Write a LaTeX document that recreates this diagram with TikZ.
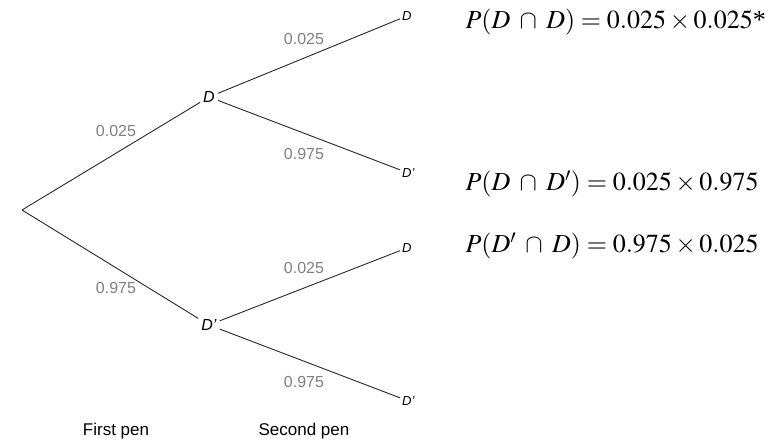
\documentclass[tikz,border=0pt]{standalone}
\usepackage{mathptmx}
\usepackage{fontspec}
\setmainfont{Liberation Serif}
\setsansfont{Liberation Sans}
\usetikzlibrary{positioning}

\tikzset{
  branch/.style={line width=0.9pt,black!85},
  prob/.style={text=black!50,font=\sffamily\fontsize{16}{18}\selectfont},
  outcome/.style={font=\sffamily\itshape\fontsize{16}{18}\selectfont,inner sep=3pt},
  leaf/.style={font=\sffamily\itshape\fontsize{13}{15}\selectfont,inner sep=2pt,anchor=west},
  result/.style={anchor=base west,font=\fontsize{26}{30}\selectfont},
  stage/.style={font=\sffamily\fontsize{17}{20}\selectfont}
}

\begin{document}
\begin{tikzpicture}[x=1pt,y=-1pt]
\useasboundingbox (0,0) rectangle (774,443);
% tree
\coordinate (root) at (22,210);
\node[outcome] (D) at (209,97) {D};
\node[outcome] (Dc) at (209,325) {D’};
\node[leaf] (DD) at (400,16) {D};
\node[leaf] (DDc) at (400,173) {D’};
\node[leaf] (DcD) at (400,248) {D};
\node[leaf] (DcDc) at (400,401) {D’};
\draw[branch] (root) -- (D);
\draw[branch] (root) -- (Dc);
\draw[branch] (D) -- (DD);
\draw[branch] (D) -- (DDc);
\draw[branch] (Dc) -- (DcD);
\draw[branch] (Dc) -- (DcDc);
% probabilities
\node[prob] (p1) at (116,131) {0.025};
\node[prob] (p2) at (116,288) {0.975};
\node[prob] (p3) at (304,39) {0.025};
\node[prob] (p4) at (304,154) {0.975};
\node[prob] (p5) at (304,268) {0.025};
\node[prob] (p6) at (304,382) {0.975};
% outcomes
\node[result] (r1) at (462,29) {$P(D\;\cap\;D)=0.025\times0.025$*};
\node[result] (r2) at (462,191) {$P(D\;\cap\;D')=0.025\times0.975$};
\node[result] (r3) at (462,253) {$P(D'\;\cap\;D)=0.975\times0.025$};
% stages
\node[stage] (s1) at (116,431) {First pen};
\node[stage] (s2) at (304,431) {Second pen};
\end{tikzpicture}
\end{document}
